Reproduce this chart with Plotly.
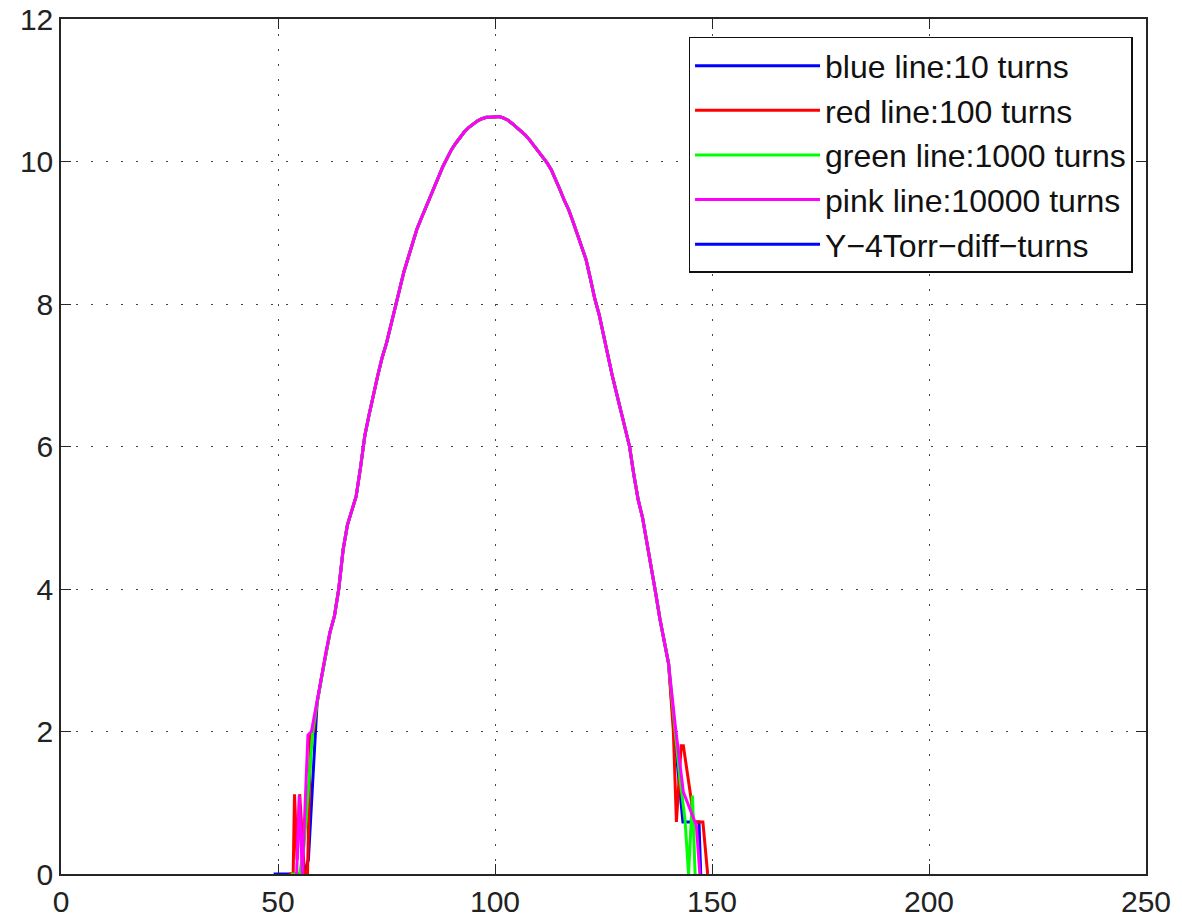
import plotly.graph_objects as go

# ---------------- data ----------------
# shared central profile (x = 59 .. 140)
core_x = list(range(59, 141))
core_y = [2.4, 2.75, 3.1, 3.4, 3.62, 4.0, 4.55, 4.9, 5.1, 5.3,      # 59-68
          5.7, 6.15, 6.45, 6.75, 7.0, 7.25, 7.45, 7.7, 7.95, 8.2,     # 69-78
          8.45, 8.65, 8.85, 9.05, 9.2, 9.35, 9.5, 9.65, 9.8, 9.93,    # 79-88
          10.05, 10.17, 10.26, 10.34, 10.42, 10.48, 10.53, 10.57, 10.6, 10.62,  # 89-98
          10.62, 10.63, 10.63, 10.61, 10.58, 10.53, 10.48, 10.42, 10.37, 10.3,  # 99-108
          10.22, 10.15, 10.07, 9.98, 9.88, 9.75, 9.6, 9.45, 9.32, 9.15,  # 109-118
          8.98, 8.8, 8.62, 8.35, 8.07, 7.85, 7.55, 7.25, 7.0, 6.75,   # 119-128
          6.5, 6.25, 6.0, 5.6, 5.25, 5.0, 4.65, 4.35, 3.95, 3.58,     # 129-138
          3.25, 2.95]                                                  # 139-140

# series-specific tails
blue_left_x = [49, 50, 51, 52, 53, 54, 55, 56, 57, 58]
blue_left_y = [0, 0, 0, 0, 0, 0, 0, 0, 0.2, 1.35]
blue_right_x = [141.0, 142.6, 143.3, 147.0, 147.4]
blue_right_y = [2.2, 1.15, 0.73, 0.73, 0.0]

red_left_x = [52.5, 53.5, 53.8, 54.4, 55.0, 56.1, 56.8, 57.5, 58.2]
red_left_y = [0, 0, 1.12, 0.2, 1.12, 0, 0, 1.95, 2.0]
red_right_x = [141.1, 141.8, 142.9, 143.4, 145.2, 145.7, 147.9, 149.0]
red_right_y = [2.0, 0.73, 1.8, 1.8, 1.05, 0.73, 0.73, 0.0]

green_left_x = [53, 54, 55, 56, 57, 58]
green_left_y = [0, 0, 0, 0.4, 1.2, 2.0]
green_right_x = [141.2, 142.5, 143.8, 144.6, 145.5, 146.1]
green_right_y = [2.2, 1.4, 0.75, 0.0, 1.1, 0.0]

pink_left_x = [54.3, 54.9, 55.6, 56.9, 57.7]
pink_left_y = [0, 1.1, 0, 1.95, 2.0]
pink_right_x = [141.5, 143.4, 146.4, 147.2]
pink_right_y = [2.1, 1.15, 0.68, 0.0]

names = ["blue line:10 turns", "red line:100 turns", "green line:1000 turns",
         "pink line:10000 turns"]
extra_name = "Y\u22124Torr\u2212diff\u2212turns"
colors = ["#0000FF", "#FF0000", "#00FF00", "#FF00FF"]

x_ticks = [0, 50, 100, 150, 200, 250]
y_ticks = [0, 2, 4, 6, 8, 10, 12]

# ---------------- figure ----------------
series = [
    (blue_left_x, blue_left_y, blue_right_x, blue_right_y),
    (red_left_x, red_left_y, red_right_x, red_right_y),
    (green_left_x, green_left_y, green_right_x, green_right_y),
    (pink_left_x, pink_left_y, pink_right_x, pink_right_y),
]

fig = go.Figure()
for (lx, ly, rx, ry), name, col in zip(series, names, colors):
    fig.add_trace(go.Scatter(
        x=lx + core_x + rx, y=ly + core_y + ry, mode="lines", name=name,
        line=dict(color=col, width=3)))
fig.add_trace(go.Scatter(x=[None], y=[None], mode="lines", name=extra_name,
                         line=dict(color="#0000FF", width=3)))

font = "Liberation Sans, Arial, Helvetica, sans-serif"
axis_common = dict(
    showline=True, linecolor="#262626", linewidth=1.5, mirror="ticks",
    ticks="inside", ticklen=10, tickwidth=1, tickcolor="#262626",
    showgrid=True, gridcolor="#444444", gridwidth=1, griddash="2px,13px",
    zeroline=False, automargin=False, ticklabeloverflow="allow",
    tickfont=dict(family=font, size=30, color="#222222"),
)
fig.update_xaxes(range=[0, 250], tickvals=x_ticks, **axis_common)
fig.update_yaxes(range=[0, 12], tickvals=y_ticks, **axis_common)

fig.update_layout(
    width=1182, height=920,
    margin=dict(l=61, r=35.5, t=19, b=45.7),
    paper_bgcolor="white", plot_bgcolor="white",
    showlegend=True,
    legend=dict(
        x=0.9876, y=0.979, xanchor="right", yanchor="top",
        bgcolor="white", bordercolor="#111111", borderwidth=1.5,
        font=dict(family=font, size=32, color="#111111"),
        itemwidth=125,
    ),
)

fig.write_html("out.html",
               config={"displayModeBar": False},
               post_script="document.body.style.margin='0';"
                           "document.body.style.overflow='hidden';")
